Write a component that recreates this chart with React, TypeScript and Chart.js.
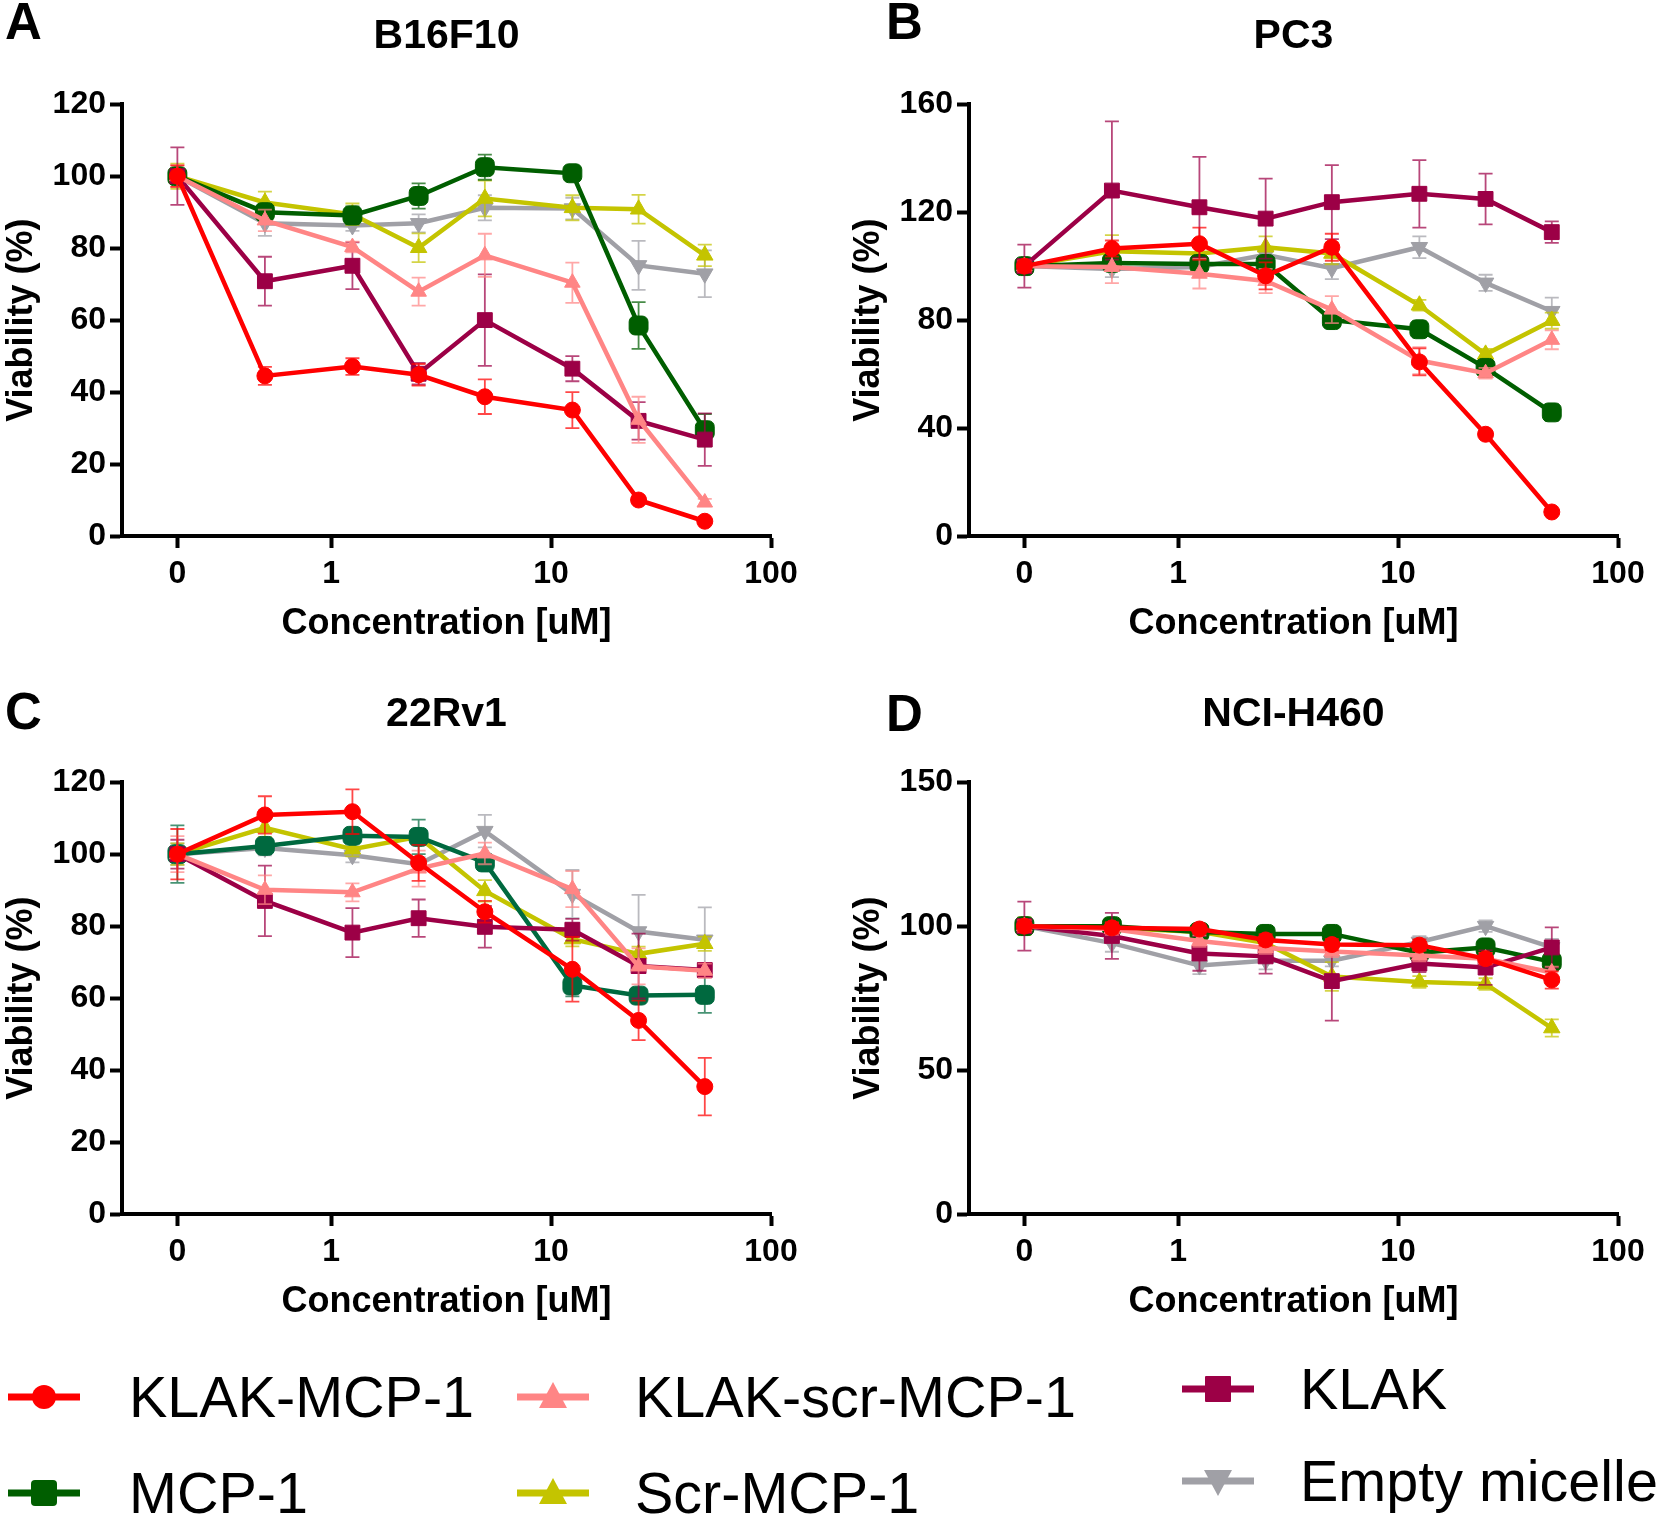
import React, { useEffect, useRef } from 'react';
import { Chart, registerables } from 'chart.js';

Chart.register(...registerables);

// ---------- data ----------
const CONCENTRATIONS = [0, 0.5, 1.25, 2.5, 5, 12.5, 25, 50];
const ZERO_POSITION = 0.2; // position of the "0" break on the log axis
const X_TICK_VALUES = [0.2, 1, 10, 100];
const X_TICK_LABELS = ['0', '1', '10', '100'];

const SERIES_NAMES = ['KLAK-MCP-1', 'KLAK-scr-MCP-1', 'KLAK', 'MCP-1', 'Scr-MCP-1', 'Empty micelle'];

// Panel A – B16F10
const A_KLAK_MCP1 = [100, 44.5, 47.1, 44.8, 38.7, 35.0, 10.0, 4.1];
const A_KLAK_MCP1_ERR = [3, 2.5, 2.3, 3, 4.8, 5, 1, 0.5];
const A_KLAK_SCR = [100, 87.7, 80.3, 67.9, 78.0, 70.4, 32.3, 9.3];
const A_KLAK_SCR_ERR = [3, 3, 1.5, 3.9, 6, 5.6, 6.4, 1];
const A_KLAK = [100, 70.8, 75.1, 45.1, 60.0, 46.5, 32.0, 26.8];
const A_KLAK_ERR = [8, 6.8, 6.5, 3, 12.7, 3.5, 5.2, 7.3];
const A_MCP1 = [100, 90.0, 89.1, 94.5, 102.5, 100.8, 58.5, 29.4];
const A_MCP1_ERR = [2, 2, 2.5, 3.5, 3.5, 1, 6.5, 4.5];
const A_SCR_MCP1 = [100, 92.7, 89.4, 80.1, 93.8, 91.2, 90.8, 78.0];
const A_SCR_MCP1_ERR = [3.5, 3, 3, 4, 5, 3.5, 4, 3];
const A_EMPTY = [100, 86.9, 86.3, 86.9, 91.2, 91.0, 75.2, 72.9];
const A_EMPTY_ERR = [2, 3.5, 1.5, 2.5, 3.5, 3, 6.8, 6.5];

// Panel B – PC3
const B_KLAK_MCP1 = [100, 106.5, 108.3, 96.4, 107.0, 64.5, 37.7, 8.9];
const B_KLAK_MCP1_ERR = [2, 3, 6, 5, 5, 5, 1, 0.5];
const B_KLAK_SCR = [100, 99.7, 97.2, 94.5, 83.9, 65.0, 60.3, 72.7];
const B_KLAK_SCR_ERR = [2, 6, 5.5, 4.5, 5, 5, 2, 3.5];
const B_KLAK = [100, 128.0, 121.8, 117.6, 123.7, 126.8, 124.9, 112.6];
const B_KLAK_ERR = [8, 25.6, 18.7, 14.8, 13.7, 12.5, 9.4, 4];
const B_MCP1 = [100, 101.2, 100.8, 100.8, 80.0, 76.6, 62.3, 45.8];
const B_MCP1_ERR = [2, 2, 2, 2, 2, 3, 2, 3];
const B_SCR_MCP1 = [100, 105.5, 104.7, 107.0, 104.7, 85.5, 67.3, 79.8];
const B_SCR_MCP1_ERR = [2, 6, 3, 4, 4, 2, 2, 3];
const B_EMPTY = [100, 98.9, 99.7, 104.2, 99.2, 107.0, 93.8, 83.3];
const B_EMPTY_ERR = [2, 3, 3, 3, 4, 4, 3, 5];

// Panel C – 22Rv1
const C_KLAK_MCP1 = [100, 110.9, 111.8, 97.6, 84.0, 68.0, 53.8, 35.4];
const C_KLAK_MCP1_ERR = [7, 5.2, 6.2, 5, 3, 9, 5.5, 8];
const C_KLAK_SCR = [100, 90.1, 89.4, 96.0, 100.2, 90.3, 68.8, 67.6];
const C_KLAK_SCR_ERR = [5, 4, 2.5, 5, 3, 5, 5, 2];
const C_KLAK = [100, 87.0, 78.2, 82.2, 79.8, 79.0, 68.9, 67.8];
const C_KLAK_ERR = [4, 9.8, 6.8, 5.2, 5.8, 3, 9, 2];
const C_MCP1 = [100, 102.3, 105.1, 104.8, 97.7, 63.5, 60.7, 60.9];
const C_MCP1_ERR = [8, 2, 2, 4.8, 2, 3, 2, 5];
const C_SCR_MCP1 = [100, 107.3, 101.4, 104.8, 89.8, 76.4, 72.3, 75.1];
const C_SCR_MCP1_ERR = [3, 2.5, 2, 2, 3, 2, 2, 2];
const C_EMPTY = [100, 101.7, 99.7, 97.2, 106.4, 88.9, 78.5, 76.2];
const C_EMPTY_ERR = [3, 2, 2, 2, 4.5, 6.7, 10.2, 9];

// Panel D – NCI-H460
const D_KLAK_MCP1 = [100, 99.4, 99.0, 95.2, 93.6, 93.4, 88.7, 81.3];
const D_KLAK_MCP1_ERR = [2, 2, 1.5, 2, 2, 2, 2, 3];
const D_KLAK_SCR = [100, 99.0, 94.8, 92.4, 91.2, 89.8, 88.7, 83.9];
const D_KLAK_SCR_ERR = [2, 2, 2, 2, 2, 2, 2, 2];
const D_KLAK = [100, 96.6, 90.5, 89.5, 80.9, 87.0, 85.6, 92.6];
const D_KLAK_ERR = [8.5, 8, 6, 6, 13.7, 3, 6, 7];
const D_MCP1 = [100, 100.0, 98.0, 97.3, 97.3, 90.8, 92.6, 87.6];
const D_MCP1_ERR = [2, 2, 2, 2, 2, 2, 2, 2];
const D_SCR_MCP1 = [100, 99.4, 98.0, 94.1, 82.5, 80.6, 79.9, 64.6];
const D_SCR_MCP1_ERR = [3, 2, 2, 2, 5, 2, 2, 3];
const D_EMPTY = [100, 94.1, 86.3, 88.0, 88.0, 94.5, 100.0, 92.6];
const D_EMPTY_ERR = [2, 3, 3, 3, 2, 2, 2, 3];

// ---------- styles ----------
const FONT = "'Liberation Sans', Arial, Helvetica, sans-serif";
const COLORS = ['#FF0000', '#FF8585', '#9C0046', '#005E00', '#C4C400', '#A0A0A6'];
const MCP1_COLOR_C = '#00693F';
const POINT_STYLES = ['circle', 'triangle', 'rect', 'rectRounded', 'triangle', 'triangle'];
const POINT_RADII = [8, 9, 10.5, 11, 9.5, 9.5];
const POINT_ROTATIONS = [0, 0, 0, 0, 0, 180];

const errorBarPlugin = {
  id: 'errorBars',
  beforeDatasetDraw(chart: any, args: any) {
    const ds: any = chart.data.datasets[args.index];
    const errs: number[] = ds.errors;
    if (!errs) return;
    const ctx = chart.ctx;
    const yScale = chart.scales.y;
    ctx.save();
    ctx.strokeStyle = ds.errorColor;
    ctx.lineWidth = 1.8;
    args.meta.data.forEach((pt: any, i: number) => {
      const v = ds.data[i].y;
      const e = errs[i];
      const x = pt.x;
      const yTop = yScale.getPixelForValue(v + e);
      const yBot = yScale.getPixelForValue(v - e);
      ctx.beginPath();
      ctx.moveTo(x, yTop);
      ctx.lineTo(x, yBot);
      ctx.moveTo(x - 7, yTop);
      ctx.lineTo(x + 7, yTop);
      ctx.moveTo(x - 7, yBot);
      ctx.lineTo(x + 7, yBot);
      ctx.stroke();
    });
    ctx.restore();
  },
};

type Panel = {
  title: string;
  letter: string;
  left: number;
  top: number;
  letterLeft: number;
  letterTop: number;
  yMax: number;
  yStep: number;
  values: number[][];
  errors: number[][];
  colors: string[];
};

const PANELS: Panel[] = [
  {
    title: 'B16F10', letter: 'A', left: 0, top: 0, letterLeft: 5, letterTop: -4, yMax: 120, yStep: 20,
    values: [A_KLAK_MCP1, A_KLAK_SCR, A_KLAK, A_MCP1, A_SCR_MCP1, A_EMPTY],
    errors: [A_KLAK_MCP1_ERR, A_KLAK_SCR_ERR, A_KLAK_ERR, A_MCP1_ERR, A_SCR_MCP1_ERR, A_EMPTY_ERR],
    colors: COLORS,
  },
  {
    title: 'PC3', letter: 'B', left: 847, top: 0, letterLeft: 886, letterTop: -4, yMax: 160, yStep: 40,
    values: [B_KLAK_MCP1, B_KLAK_SCR, B_KLAK, B_MCP1, B_SCR_MCP1, B_EMPTY],
    errors: [B_KLAK_MCP1_ERR, B_KLAK_SCR_ERR, B_KLAK_ERR, B_MCP1_ERR, B_SCR_MCP1_ERR, B_EMPTY_ERR],
    colors: COLORS,
  },
  {
    title: '22Rv1', letter: 'C', left: 0, top: 678, letterLeft: 5, letterTop: 686, yMax: 120, yStep: 20,
    values: [C_KLAK_MCP1, C_KLAK_SCR, C_KLAK, C_MCP1, C_SCR_MCP1, C_EMPTY],
    errors: [C_KLAK_MCP1_ERR, C_KLAK_SCR_ERR, C_KLAK_ERR, C_MCP1_ERR, C_SCR_MCP1_ERR, C_EMPTY_ERR],
    colors: [COLORS[0], COLORS[1], COLORS[2], MCP1_COLOR_C, COLORS[4], COLORS[5]],
  },
  {
    title: 'NCI-H460', letter: 'D', left: 847, top: 678, letterLeft: 886, letterTop: 688, yMax: 150, yStep: 50,
    values: [D_KLAK_MCP1, D_KLAK_SCR, D_KLAK, D_MCP1, D_SCR_MCP1, D_EMPTY],
    errors: [D_KLAK_MCP1_ERR, D_KLAK_SCR_ERR, D_KLAK_ERR, D_MCP1_ERR, D_SCR_MCP1_ERR, D_EMPTY_ERR],
    colors: COLORS,
  },
];

const CANVAS_W = 830;
const CANVAS_H = 660;

function buildConfig(p: Panel): any {
  const tickFont = { family: FONT, size: 32, weight: 'bold' as const };
  const titleFont = { family: FONT, size: 36, weight: 'bold' as const };
  const grid = {
    display: true,
    drawOnChartArea: false,
    drawTicks: true,
    tickLength: 12,
    tickWidth: 4,
    tickColor: '#000',
  };
  const border = { display: true, width: 4, color: '#000' };
  return {
    type: 'line',
    data: {
      datasets: SERIES_NAMES.map((name, si) => ({
        label: name,
        data: CONCENTRATIONS.map((c, i) => ({ x: c === 0 ? ZERO_POSITION : c, y: p.values[si][i] })),
        errors: p.errors[si],
        errorColor: p.colors[si] + 'B8',
        borderColor: p.colors[si],
        backgroundColor: p.colors[si],
        pointBackgroundColor: p.colors[si],
        pointBorderColor: p.colors[si],
        pointBorderWidth: 1,
        pointStyle: POINT_STYLES[si],
        pointRadius: POINT_RADII[si],
        rotation: POINT_ROTATIONS[si],
        borderWidth: 4.5,
        tension: 0,
        fill: false,
      })),
    },
    options: {
      animation: false,
      responsive: false,
      events: [],
      layout: { padding: { left: 0, right: 59, top: 0, bottom: 14 } },
      plugins: {
        legend: { display: false },
        tooltip: { enabled: false },
        title: {
          display: true,
          text: p.title,
          fullSize: false,
          color: '#000',
          font: { family: FONT, size: 41, weight: 'bold' },
          padding: { top: 12, bottom: 43 },
        },
      },
      scales: {
        x: {
          type: 'logarithmic',
          min: 0.112,
          max: 100,
          afterBuildTicks: (s: any) => {
            s.ticks = X_TICK_VALUES.map((v) => ({ value: v }));
          },
          afterFit: (s: any) => {
            s.height = 110;
          },
          ticks: {
            autoSkip: false,
            maxRotation: 0,
            color: '#000',
            font: tickFont,
            padding: 7,
            callback: (v: any) => X_TICK_LABELS[X_TICK_VALUES.indexOf(Number(v))],
          },
          grid,
          border,
          title: {
            display: true,
            text: 'Concentration [uM]',
            color: '#000',
            font: titleFont,
            padding: { top: 0, bottom: 0 },
          },
        },
        y: {
          type: 'linear',
          min: 0,
          max: p.yMax,
          afterFit: (s: any) => {
            s.width = 122;
          },
          ticks: { stepSize: p.yStep, color: '#000', font: tickFont, padding: 4 },
          grid,
          border,
          title: {
            display: true,
            text: 'Viability (%)',
            color: '#000',
            font: titleFont,
            padding: { top: 0, bottom: 0 },
          },
        },
      },
    },
    plugins: [errorBarPlugin],
  };
}

function PanelChart({ panel }: { panel: Panel }) {
  const ref = useRef<HTMLCanvasElement | null>(null);
  useEffect(() => {
    if (!ref.current) return;
    const chart = new Chart(ref.current, buildConfig(panel));
    return () => chart.destroy();
  }, [panel]);
  return (
    <>
      <canvas
        ref={ref}
        width={CANVAS_W}
        height={CANVAS_H}
        style={{ position: 'absolute', left: panel.left, top: panel.top, width: CANVAS_W, height: CANVAS_H }}
      />
      <div
        style={{
          position: 'absolute',
          left: panel.letterLeft,
          top: panel.letterTop,
          fontFamily: FONT,
          fontWeight: 'bold',
          fontSize: 51,
          lineHeight: '51px',
          color: '#000',
        }}
      >
        {panel.letter}
      </div>
    </>
  );
}

function LegendMarker({ index }: { index: number }) {
  const c = COLORS[index];
  const cx = 36;
  const cy = 18;
  let shape: React.ReactNode = null;
  if (POINT_STYLES[index] === 'circle') shape = <circle cx={cx} cy={cy} r={12} fill={c} />;
  else if (POINT_STYLES[index] === 'rect' || POINT_STYLES[index] === 'rectRounded')
    shape = <rect x={cx - 13} y={cy - 13} width={26} height={26} rx={POINT_STYLES[index] === 'rectRounded' ? 4 : 1} fill={c} />;
  else if (POINT_ROTATIONS[index] === 180)
    shape = <polygon points={`${cx - 14},${cy - 11} ${cx + 14},${cy - 11} ${cx},${cy + 15}`} fill={c} />;
  else shape = <polygon points={`${cx - 14},${cy + 11} ${cx + 14},${cy + 11} ${cx},${cy - 15}`} fill={c} />;
  return (
    <svg width={72} height={36} style={{ display: 'block' }}>
      <line x1={0} y1={cy} x2={72} y2={cy} stroke={c} strokeWidth={7} />
      {shape}
    </svg>
  );
}

const LEGEND_LAYOUT = [
  { lineX: 8, textX: 129, cy: 1397 },
  { lineX: 517, textX: 635, cy: 1397 },
  { lineX: 1182, textX: 1300, cy: 1389 },
  { lineX: 8, textX: 129, cy: 1493 },
  { lineX: 517, textX: 635, cy: 1493 },
  { lineX: 1182, textX: 1300, cy: 1481 },
];

export default function App() {
  return (
    <div
      style={{
        position: 'absolute',
        left: 0,
        top: 0,
        width: 1660,
        height: 1518,
        background: '#fff',
        overflow: 'hidden',
      }}
    >
      {PANELS.map((p) => (
        <PanelChart key={p.letter} panel={p} />
      ))}
      {SERIES_NAMES.map((name, i) => {
        const L = LEGEND_LAYOUT[i];
        return (
          <React.Fragment key={name}>
            <div style={{ position: 'absolute', left: L.lineX, top: L.cy - 18 }}>
              <LegendMarker index={i} />
            </div>
            <div
              style={{
                position: 'absolute',
                left: L.textX,
                top: L.cy - 29,
                fontFamily: FONT,
                fontSize: 57.5,
                lineHeight: '58px',
                color: '#000',
                whiteSpace: 'nowrap',
              }}
            >
              {name}
            </div>
          </React.Fragment>
        );
      })}
    </div>
  );
}
